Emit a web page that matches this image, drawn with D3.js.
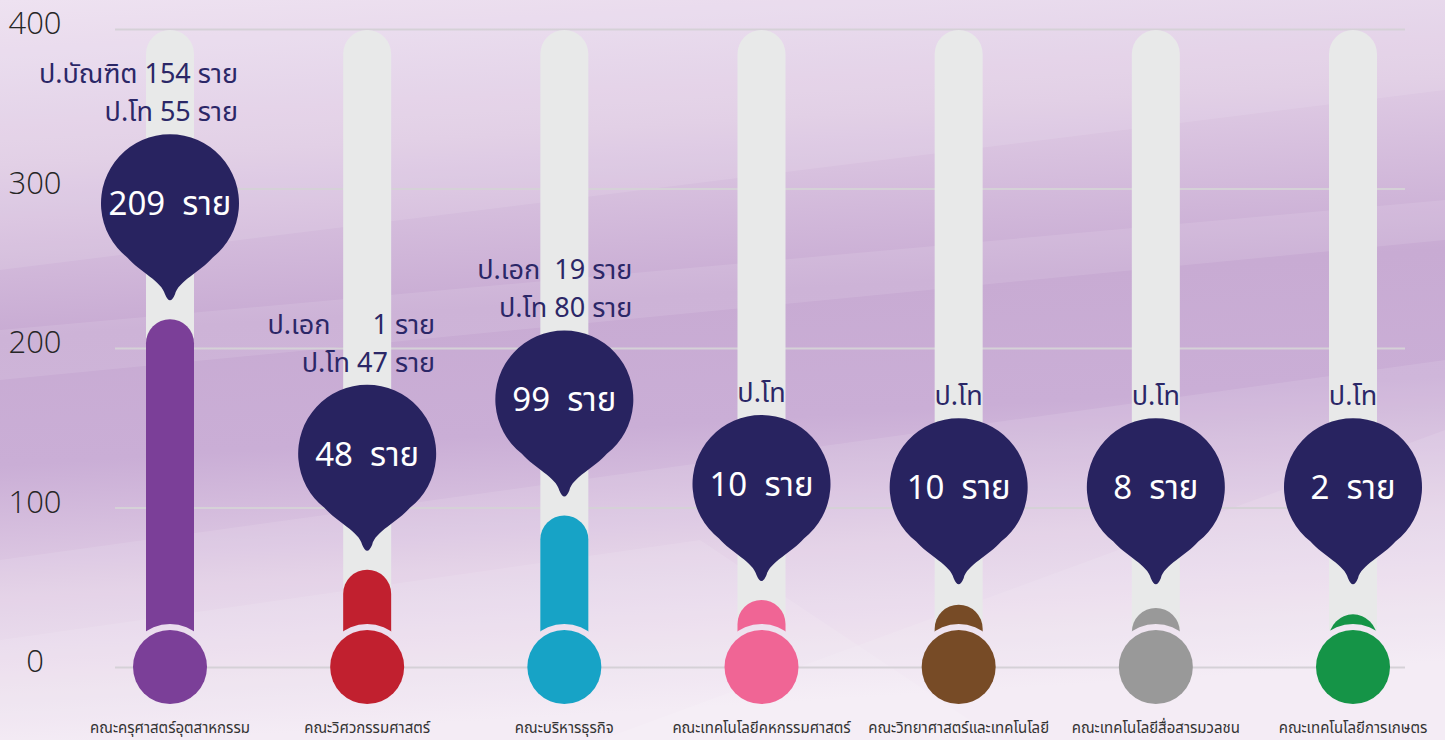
<!DOCTYPE html>
<html>
<head>
<meta charset="utf-8">
<script src="https://cdn.jsdelivr.net/npm/d3@7"></script>
<style>
  html, body { margin: 0; padding: 0; }
  svg { display: block; }
  text { font-family: "Noto Sans Thai", "Noto Sans", "DejaVu Sans", sans-serif; }
</style>
</head>
<body>
<svg id="chart" width="1445" height="740"></svg>
<script>
// faculties, left to right
var categories = [
  "คณะครุศาสตร์อุตสาหกรรม",
  "คณะวิศวกรรมศาสตร์",
  "คณะบริหารธุรกิจ",
  "คณะเทคโนโลยีคหกรรมศาสตร์",
  "คณะวิทยาศาสตร์และเทคโนโลยี",
  "คณะเทคโนโลยีสื่อสารมวลชน",
  "คณะเทคโนโลยีการเกษตร"
];

// total graduates per faculty (value in the bubble)
var totals = [209, 48, 99, 10, 10, 8, 2];

// level the coloured fill reaches (the infographic is not to scale)
var fillLevels = [218, 61, 95, 42, 39, 37, 33];

// breakdown lines written above each bubble
var breakdown = [
  ["ป.บัณฑิต 154 ราย", "ป.โท 55 ราย"],
  ["ป.เอก      1 ราย", "ป.โท 47 ราย"],
  ["ป.เอก  19 ราย", "ป.โท 80 ราย"],
  ["ป.โท"],
  ["ป.โท"],
  ["ป.โท"],
  ["ป.โท"]
];

var tickValues = [0, 100, 200, 300, 400];

var colors = ["#7b3f98", "#c1202f", "#17a3c6", "#f06595", "#774b26", "#999999", "#159447"];

var width = 1445, height = 740;
var svg = d3.select("#chart");
var defs = svg.append("defs");

// background
var bg = defs.append("linearGradient")
    .attr("id", "bg")
    .attr("x1", 0).attr("y1", 0).attr("x2", 0.12).attr("y2", 1);
[[0, "#ecdff0"], [0.22, "#dfcbe4"], [0.45, "#c8abd3"], [0.62, "#caaed6"],
 [0.8, "#e2cfe6"], [1, "#f2e8f3"]].forEach(function(s) {
  bg.append("stop").attr("offset", s[0]).attr("stop-color", s[1]);
});

svg.append("rect").attr("width", width).attr("height", height).attr("fill", "url(#bg)");

// soft diagonal streaks
var streaks = [
  [[0, 0], [1445, 0], [1445, 90], [0, 270]],
  [[0, 330], [1445, 200], [1445, 240], [0, 380]],
  [[0, 560], [1445, 360], [1445, 740], [0, 740]],
  [[600, 740], [1445, 430], [1445, 740]],
  [[0, 640], [700, 540], [1000, 740], [0, 740]]
];
svg.append("g").selectAll("polygon")
  .data(streaks)
  .join("polygon")
    .attr("points", function(d) { return d.join(" "); })
    .attr("fill", "#ffffff")
    .attr("opacity", 0.1);

var x = d3.scalePoint()
    .domain(categories)
    .range([170, 1353]);

var y = d3.scaleLinear()
    .domain([0, 400])
    .range([667, 29]);

var tubeW = 48, bulbR = 37, gapR = 43, bubbleR = 69;

// gridlines + axis labels
var axis = svg.append("g")
    .attr("transform", "translate(115,0)")
    .call(d3.axisLeft(y).tickValues(tickValues).tickSize(-1290).tickPadding(0));
axis.select(".domain").remove();
axis.selectAll(".tick line")
    .attr("stroke", "#d5d1d7")
    .attr("stroke-width", 2);
axis.selectAll(".tick text")
    .attr("x", -80)
    .attr("dy", "0.32em")
    .attr("y", -5)
    .attr("text-anchor", "middle")
    .attr("fill", "#262626")
    .attr("font-size", 31)
    .attr("font-weight", 300)
    .style("font-family", "'Open Sans', sans-serif");

var rows = categories.map(function(c, i) {
  return { cat: c, total: totals[i], level: fillLevels[i], lines: breakdown[i], color: colors[i] };
});

// mask cutting a ring around each bulb
var mask = defs.append("mask").attr("id", "gap");
mask.append("rect").attr("width", width).attr("height", height).attr("fill", "#fff");
mask.selectAll("circle")
  .data(rows)
  .join("circle")
    .attr("cx", function(d) { return x(d.cat); })
    .attr("cy", y(0))
    .attr("r", gapR)
    .attr("fill", "#000");

var tubes = svg.append("g").attr("mask", "url(#gap)");

tubes.selectAll("rect.tube")
  .data(rows)
  .join("rect")
    .attr("class", "tube")
    .attr("x", function(d) { return x(d.cat) - tubeW / 2; })
    .attr("y", y(400) + 1)
    .attr("width", tubeW)
    .attr("height", y(0) - y(400))
    .attr("rx", tubeW / 2)
    .attr("fill", "#e8e9e9");

tubes.selectAll("rect.fill")
  .data(rows)
  .join("rect")
    .attr("class", "fill")
    .attr("x", function(d) { return x(d.cat) - tubeW / 2; })
    .attr("y", function(d) { return y(d.level); })
    .attr("width", tubeW)
    .attr("height", function(d) { return y(0) - y(d.level); })
    .attr("rx", tubeW / 2)
    .attr("fill", function(d) { return d.color; });

// bulbs
svg.append("g").selectAll("circle")
  .data(rows)
  .join("circle")
    .attr("cx", function(d) { return x(d.cat); })
    .attr("cy", y(0))
    .attr("r", bulbR)
    .attr("fill", function(d) { return d.color; });

// speech bubble with a pointer at the bottom, centred on 0,0
function bubblePath(r) {
  var a = 38 * Math.PI / 180,
      sx = r * Math.sin(a),
      sy = r * Math.cos(a);
  return "M" + (-sx) + "," + sy +
    "A" + r + "," + r + " 0 1 1 " + sx + "," + sy +
    "C" + (sx - 12) + "," + (sy + 14) + " 8,78 5,91" +
    "Q0,103 -5,91" +
    "C-8,78 " + (-sx + 12) + "," + (sy + 14) + " " + (-sx) + "," + sy + "Z";
}

// bubbles sit above the fill; the small ones line up at one height
var bubbleY = function(d) { return y(Math.max(d.level, 40)) - 116; };

var bubbles = svg.append("g").selectAll("g")
  .data(rows)
  .join("g")
    .attr("transform", function(d) { return "translate(" + x(d.cat) + "," + bubbleY(d) + ")"; });

bubbles.append("path")
    .attr("d", bubblePath(bubbleR))
    .attr("fill", "#282360");

bubbles.append("text")
    .attr("text-anchor", "middle")
    .attr("dy", "0.36em")
    .attr("fill", "#ffffff")
    .attr("font-size", 33)
    .style("white-space", "pre")
    .text(function(d) { return d.total + "  ราย"; });

// breakdown text above the bubbles
var notes = svg.append("g").selectAll("text")
  .data(rows)
  .join("text")
    .attr("fill", "#2b2767")
    .attr("font-size", 27)
    .style("white-space", "pre")
    .attr("text-anchor", function(d) { return d.lines.length > 1 ? "end" : "middle"; });

notes.selectAll("tspan")
  .data(function(d) {
    var n = d.lines.length,
        bx = n > 1 ? x(d.cat) + 68 : x(d.cat),
        base = bubbleY(d) - bubbleR - 13;
    return d.lines.map(function(t, j) { return { t: t, x: bx, y: base - (n - 1 - j) * 38 }; });
  })
  .join("tspan")
    .attr("x", function(d) { return d.x; })
    .attr("y", function(d) { return d.y; })
    .text(function(d) { return d.t; });

// faculty names
svg.append("g").selectAll("text")
  .data(rows)
  .join("text")
    .attr("x", function(d) { return x(d.cat); })
    .attr("y", 733)
    .attr("text-anchor", "middle")
    .attr("fill", "#333333")
    .attr("font-size", 15)
    .text(function(d) { return d.cat; });
</script>
</body>
</html>
